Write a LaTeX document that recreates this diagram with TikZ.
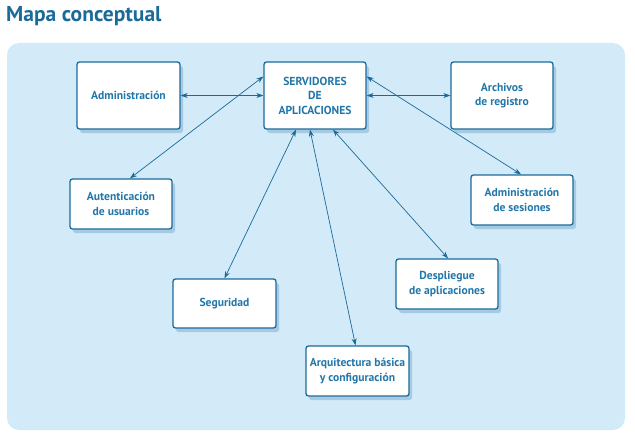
\documentclass[tikz,border=0pt]{standalone}
\usepackage{fontspec}
\setmainfont{PT Sans}
\usetikzlibrary{arrows.meta,shadows,calc}
\definecolor{dblue}{HTML}{1A6A9A}
\definecolor{tblue}{HTML}{2277AA}
\definecolor{bgblue}{HTML}{D3EAF8}
\definecolor{shblue}{HTML}{9CC3DE}
\tikzset{
  concept/.style={draw=dblue, line width=1.3pt, rounded corners=2.5pt, fill=white,
    text=tblue, font=\bfseries\fontsize{11.6}{14.5}\selectfont, align=center,
    inner sep=0pt, drop shadow={shadow xshift=3pt, shadow yshift=-4pt, fill=shblue, opacity=0.8}},
  link/.style={draw=dblue, line width=0.7pt, {Stealth[length=7pt,width=5pt]}-{Stealth[length=7pt,width=5pt]}}
}
\begin{document}
\begin{tikzpicture}[x=1pt,y=-1pt]
\useasboundingbox (0,0) rectangle (635,436);
\node[anchor=west, text=dblue, font=\bfseries\fontsize{21.5}{24}\selectfont, inner sep=0pt] (title) at (6,16) {Mapa conceptual};
\fill[bgblue, rounded corners=12pt] (7,43) rectangle (625,430);
\node[concept, minimum width=103pt, minimum height=67pt] (adm) at (128.5,95.5) {Administración};
\node[concept, minimum width=102pt, minimum height=67pt] (serv) at (315,95.5) {SERVIDORES\\DE\\APLICACIONES};
\node[concept, minimum width=102pt, minimum height=67pt] (arch) at (502,95.5) {Archivos\\de registro};
\node[concept, minimum width=102pt, minimum height=50pt] (aut) at (121,204) {Autenticación\\de usuarios};
\node[concept, minimum width=102pt, minimum height=50pt] (ses) at (522,200) {Administración\\de sesiones};
\node[concept, minimum width=103pt, minimum height=49pt] (seg) at (224.5,303.5) {Seguridad};
\node[concept, minimum width=102pt, minimum height=50pt] (desp) at (447,284) {Despliegue\\de aplicaciones};
\node[concept, minimum width=103pt, minimum height=50pt] (arq) at (357.5,371) {Arquitectura básica\\y configuración};
\draw[link] (adm.east) -- (serv.west);
\draw[link] (serv.east) -- (arch.west);
\draw[link] ([yshift=19pt]serv.west) -- ([xshift=9pt]aut.north);
\draw[link] ([xshift=-19pt]serv.south) -- (seg.north);
\draw[link] ([xshift=-5pt]serv.south) -- ([xshift=-2pt]arq.north);
\draw[link] ([xshift=18pt]serv.south) -- ([xshift=1pt]desp.north);
\draw[link] ([yshift=19pt]serv.east) -- ([xshift=-1pt]ses.north);
\end{tikzpicture}
\end{document}
